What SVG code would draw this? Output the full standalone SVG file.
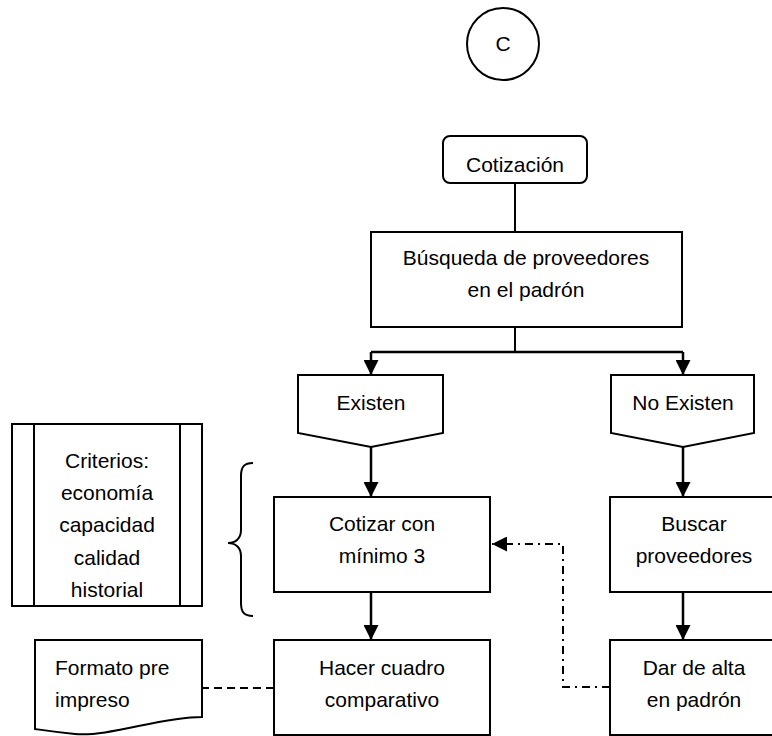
<svg xmlns="http://www.w3.org/2000/svg" width="772" height="736" viewBox="0 0 772 736">
<defs>
<style>
.s{fill:#fff;stroke:#000;stroke-width:2}
.t{font-family:"Liberation Sans",Arial,sans-serif;font-size:21px;fill:#000;text-anchor:middle}
.l{fill:none;stroke:#000;stroke-width:2}
.a{fill:none;stroke:#000;stroke-width:2.5}
</style>
<marker id="ah" markerWidth="15" markerHeight="15" refX="15" refY="7.5" orient="auto" markerUnits="userSpaceOnUse">
<path d="M0,0 L15,7.5 L0,15 Z" fill="#000"/>
</marker>
</defs>
<rect width="772" height="736" fill="#fff"/>
<g id="connectors">
<path class="l" d="M515,183 V232"/>
<path class="l" d="M515,327 V352"/>
<path class="a" d="M371,352 H683" />
<path class="a" d="M371,352 V375" marker-end="url(#ah)"/>
<path class="a" d="M683,352 V375" marker-end="url(#ah)"/>
<path class="a" d="M371,447 V497" marker-end="url(#ah)"/>
<path class="a" d="M683,447 V497" marker-end="url(#ah)"/>
<path class="a" d="M371,592 V640" marker-end="url(#ah)"/>
<path class="a" d="M683,592 V640" marker-end="url(#ah)"/>
<path class="l" d="M610,687 H563 V544 H492" stroke-dasharray="8,5,2,5" marker-end="url(#ah)"/>
<path class="l" d="M274,688 H202" stroke-dasharray="8,5"/>
</g>
<g id="c">
<circle class="s" cx="503" cy="44" r="36"/>
<text class="t" x="503" y="51">C</text>
</g>
<g id="cotizacion">
<rect class="s" x="443" y="136" width="144" height="47" rx="7"/>
<text class="t" x="515" y="172">Cotización</text>
</g>
<g id="busqueda">
<rect class="s" x="371" y="232" width="311" height="95"/>
<text class="t" x="526" y="265">Búsqueda de proveedores</text>
<text class="t" x="526" y="297">en el padrón</text>
</g>
<g id="existen">
<path class="s" d="M298,375 H443 V433 L371,447 L298,433 Z"/>
<text class="t" x="371" y="410">Existen</text>
</g>
<g id="noexisten">
<path class="s" d="M611,375 H754 V433 L683,447 L611,433 Z"/>
<text class="t" x="683" y="410">No Existen</text>
</g>
<g id="criterios">
<rect class="s" x="12" y="424" width="190" height="182"/>
<path class="l" d="M34,424 V606 M180,424 V606"/>
<text class="t" x="107" y="468">Criterios:</text>
<text class="t" x="107" y="500">economía</text>
<text class="t" x="107" y="532">capacidad</text>
<text class="t" x="107" y="565">calidad</text>
<text class="t" x="107" y="597">historial</text>
</g>
<g id="brace">
<path class="l" d="M253,463 C244,463 241,467 241,476 V530 C241,538 236,543 228,543 C236,543 241,548 241,556 V603 C241,612 244,616 253,616"/>
</g>
<g id="cotizar">
<rect class="s" x="274" y="497" width="216" height="95"/>
<text class="t" x="382" y="531">Cotizar con</text>
<text class="t" x="382" y="563">mínimo 3</text>
</g>
<g id="buscar">
<rect class="s" x="610" y="497" width="170" height="95"/>
<text class="t" x="694" y="531">Buscar</text>
<text class="t" x="694" y="563">proveedores</text>
</g>
<g id="hacer">
<rect class="s" x="274" y="640" width="216" height="95"/>
<text class="t" x="382" y="675">Hacer cuadro</text>
<text class="t" x="382" y="707">comparativo</text>
</g>
<g id="dar">
<rect class="s" x="610" y="640" width="170" height="95"/>
<text class="t" x="694" y="675">Dar de alta</text>
<text class="t" x="694" y="707">en padrón</text>
</g>
<g id="formato">
<path class="s" d="M35,640 H202 V717 C160,717 110,737 75,734 C55,732 42,730 35,729 Z"/>
<text class="t" x="55" y="675" style="text-anchor:start">Formato pre</text>
<text class="t" x="55" y="707" style="text-anchor:start">impreso</text>
</g>
</svg>
